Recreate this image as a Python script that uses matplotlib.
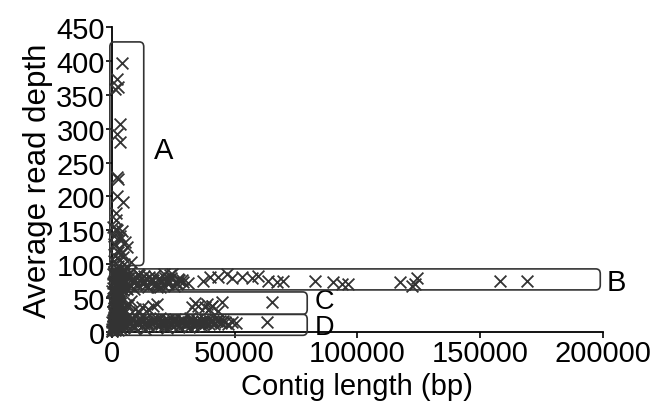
import matplotlib
matplotlib.use("Agg")
import matplotlib.pyplot as plt
from matplotlib.patches import FancyBboxPatch

plt.rcParams['font.family'] = ['Liberation Sans', 'DejaVu Sans']

# group A: short contigs with high depth
a_x = [4000, 2000, 2600, 1200, 3300, 2000, 3300, 2000, 2300, 4500, 2400, 1500, 2000, 4100,
       5300, 3300, 2800, 2400, 4500, 7800, 900, 1500, 3500, 6000, 1000, 2500, 800, 1800,
       1200, 2900, 600, 3800, 5000, 1700]
a_y = [397, 373, 361, 358, 307, 292, 280, 228, 200, 192, 226, 152, 150, 149,
       133, 137, 122, 118, 110, 103, 142, 165, 142, 125, 105, 98, 130, 175,
       112, 108, 155, 115, 100, 128]

# dense column of short contigs
col_x = [200, 600, 1000, 1400, 1800, 2200, 2600, 3000, 3400, 3800,
         400, 800, 1200, 1600, 2000, 2400, 2800, 3200, 3600, 4200,
         300, 700, 1100, 1500, 1900, 2300, 2700, 3100, 4600, 5200,
         500, 900, 1300, 1700, 2100, 2500, 2900, 3500, 4000, 5600,
         250, 650, 1050, 1450, 1850, 2250, 2650, 3300, 4400, 6200,
         350, 750, 1150, 1550, 1950, 2350, 2750, 3700, 4800, 6800,
         450, 850, 1250, 1650, 2050, 2450, 3050, 3900, 5000, 7400,
         150, 550, 950, 1350, 1750, 2150, 2550, 3450, 4300, 5400,
         100, 700, 1300, 1900, 2500, 3100, 3700, 4300, 900, 1600,
         200, 800, 1400, 2000, 2600, 3200, 3800, 4400, 1100, 2300,
         300, 900, 1500, 2100, 2700, 3300, 3900, 4500, 600, 1800]
col_y = [2, 8, 4, 12, 6, 10, 3, 14, 7, 5,
         18, 22, 16, 25, 20, 15, 24, 19, 13, 11,
         30, 35, 28, 38, 33, 40, 29, 36, 27, 32,
         45, 50, 42, 55, 48, 52, 46, 43, 51, 39,
         60, 65, 58, 63, 68, 61, 66, 57, 62, 64,
         72, 75, 70, 78, 74, 80, 71, 76, 73, 69,
         85, 88, 82, 90, 86, 84, 92, 87, 83, 81,
         1, 9, 17, 26, 34, 44, 54, 67, 79, 91,
         5, 12, 21, 31, 41, 53, 63, 77, 87, 94,
         14, 27, 37, 47, 57, 67, 81, 89, 3, 23,
         7, 19, 33, 49, 59, 73, 84, 10, 45, 68]

# group B: depth ~60-90
b_x = [5000, 6500, 8000, 9500, 11000, 12500, 14000, 15500, 17000, 18500, 20000, 21500, 23000, 24500, 26000, 27500,
       5800, 7200, 8800, 10300, 11800, 13300, 14800, 16300, 17800, 19300, 20800, 22300, 23800, 25300, 27000, 29000,
       6200, 7800, 9200, 10800, 12200, 13800, 15200, 16800, 18200, 19800, 21200, 22800, 24200, 26500, 28500, 31000,
       37100, 40000, 43250, 46900, 49000, 53000, 57100, 59600, 63600, 67300, 69800, 82800, 90200, 93800, 96300,
       117500, 124400, 123600, 122400, 158300, 169300]
b_y = [72, 80, 68, 76, 84, 70, 78, 74, 82, 66, 75, 79, 71, 86, 73, 77,
       65, 88, 74, 70, 79, 83, 67, 76, 72, 80, 69, 75, 84, 68, 78, 74,
       82, 76, 64, 86, 73, 69, 81, 77, 71, 66, 85, 73, 79, 70, 76, 72,
       75, 81, 81, 86, 79, 81, 79, 82, 75, 74, 75, 75, 74, 71, 71,
       74, 79, 71, 68, 75, 75]

# group C: depth ~30-50
c_x = [9400, 12200, 14700, 16700, 32600, 35100, 37900, 40800, 43200, 44900, 65300, 38800, 40800,
       6500, 8000, 11000, 34000, 39500, 18500]
c_y = [34, 37, 34, 38, 37, 38, 37, 38, 31, 44, 44, 41, 38,
       40, 45, 30, 42, 34, 41]

# group D: depth ~5-25
d_x = [5500, 7000, 8500, 10000, 11500, 13000, 14500, 16000, 17500, 19000, 20500, 22000, 23500, 25000, 26500,
       28000, 29500, 31000, 32500, 34000, 35500, 37000, 38500, 40000, 41500, 43000, 44500, 46000, 47500, 49000,
       6200, 7800, 9200, 10800, 12400, 13800, 15200, 16800, 18400, 19800, 21200, 22800, 24400, 25800, 27200,
       28800, 30200, 31800, 33400, 34800, 36400, 38000, 39600, 41200, 42800, 44100, 45300, 36700, 63200, 50500,
       5000, 6800, 8200, 9800, 11200, 12800, 14200, 15800, 17200, 18800, 20200, 21800, 23200, 24800, 26200,
       27800, 29200, 30800, 32200, 33800, 35200, 37800, 40600, 3500, 4200, 6000, 9000, 13500, 22500, 31500]
d_y = [12, 16, 10, 14, 18, 11, 15, 13, 17, 12, 14, 16, 11, 15, 13,
       17, 12, 14, 16, 13, 15, 11, 14, 16, 12, 16, 13, 15, 12, 14,
       8, 20, 7, 19, 9, 21, 8, 19, 10, 20, 9, 18, 10, 19, 8,
       18, 10, 20, 9, 17, 10, 18, 11, 16, 17, 16, 16, 16, 15, 13,
       14, 12, 17, 15, 13, 16, 12, 14, 15, 17, 12, 13, 15, 17, 11,
       14, 16, 12, 14, 15, 13, 13, 14, 10, 18, 22, 6, 5, 6, 7]

# boxes (x0, y0, x1, y1) and their labels
boxes = [(-800, 98, 13000, 428), (-800, 62, 199000, 93),
         (-800, 26, 79600, 59), (-800, -5, 79600, 26)]
box_labels = ["A", "B", "C", "D"]
label_pos = [(17000, 268), (201500, 74), (82500, 45), (82500, 7)]
label_size = [21, 21, 19.5, 19.5]

fig = plt.figure(figsize=(6.54, 4.06), dpi=100)
ax = fig.add_axes([0.171, 0.18, 0.7506, 0.751])

mk = dict(marker="x", s=72, color="#333333", linewidths=1.3, clip_on=False, zorder=3)
for xs, ys in [(col_x, col_y), (a_x, a_y), (b_x, b_y), (c_x, c_y), (d_x, d_y)]:
    ax.scatter(xs, ys, **mk)

for (x0, y0, x1, y1), lab, (lx, ly), fs in zip(boxes, box_labels, label_pos, label_size):
    p = FancyBboxPatch((x0, y0), x1 - x0, y1 - y0,
                       boxstyle="round,pad=0,rounding_size=1800",
                       mutation_aspect=0.004, fill=False,
                       edgecolor="#333333", linewidth=1.2,
                       clip_on=False, zorder=4)
    ax.add_patch(p)
    ax.text(lx, ly, lab, fontsize=fs, ha="left", va="center")

ax.set_xlim(0, 200000)
ax.set_ylim(0, 450)
ax.set_xticks([0, 50000, 100000, 150000, 200000])
ax.set_xticklabels(["0", "50000", "100000", "150000", "200000"])
ax.set_yticks(range(0, 451, 50))
ax.tick_params(labelsize=21, length=4, width=1.2, pad=1)
for s in ["top", "right"]:
    ax.spines[s].set_visible(False)
for s in ["left", "bottom"]:
    ax.spines[s].set_linewidth(1.3)

ax.set_xlabel("Contig length (bp)", fontsize=21, labelpad=4)
ax.set_ylabel("Average read depth", fontsize=22.5, labelpad=2)

fig.savefig("out.png", dpi=100)
